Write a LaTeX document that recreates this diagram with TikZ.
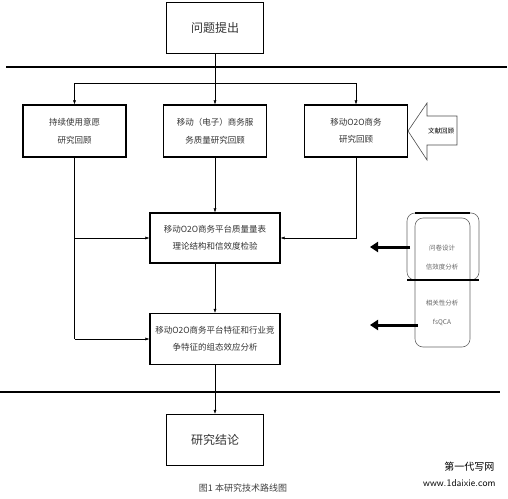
\documentclass[tikz,border=0pt]{standalone}
\usepackage{fontspec}
\newfontfamily\cjk{Noto Sans CJK SC}
\usetikzlibrary{arrows.meta}

\begin{document}
\begin{tikzpicture}[x=1pt,y=-1pt,
  box/.style={draw, line width=1.2pt, rectangle, align=center, text=black!80, font=\cjk\fontsize{8.5}{17.5}\selectfont},
  bigbox/.style={box, minimum width=97pt, minimum height=51pt, font=\cjk\fontsize{12}{14}\selectfont},
  bar/.style={line width=2.5pt},
  fat/.style={line width=3pt, -{Triangle[length=8pt,width=10pt]}},
  small/.style={align=center, text=black!60, font=\cjk\fontsize{6.5}{19}\selectfont},
  >={Latex[length=4pt,width=3pt]}]
\useasboundingbox (0,0) rectangle (508,498);
\node[bigbox] (pose) at (215,28) {问题提出};
\node[box, minimum width=103pt, minimum height=52pt] (rev1) at (74.5,131) {持续使用意愿\\研究回顾};
\node[box, minimum width=103pt, minimum height=52pt] (rev2) at (215,131) {移动（电子）商务服\\务质量研究回顾};
\node[box, minimum width=103pt, minimum height=52pt] (rev3) at (356,131) {移动O2O商务\\研究回顾};
\node[box, minimum width=130pt, minimum height=50pt] (scale) at (215,238) {移动O2O商务平台质量量表\\理论结构和信效度检验};
\node[box, minimum width=130pt, minimum height=51pt] (config) at (215,339) {移动O2O商务平台特征和行业竞\\争特征的组态效应分析};
\node[bigbox] (concl) at (215,440) {研究结论};

\coordinate (split) at (215,83);
\coordinate (lsplit) at (74.5,83);
\coordinate (rsplit) at (356,83);
\coordinate (lbend) at (74.5,339);

% separators
\draw[bar] (6,67) -- (507,67);
\draw[bar] (0,392) -- (500,392);

\draw (pose) -- (split);
\draw (lsplit) -- (rsplit);
\draw[->] (lsplit) -- (rev1);
\draw[->] (split) -- (rev2);
\draw[->] (rsplit) -- (rev3);
\draw[->] (rev2) -- (scale);
\draw[->] (rev3.south) |- (scale.east);
\draw (rev1) -- (lbend);
\draw[->] (rev1.south |- scale.west) -- (scale.west);
\draw[->] (lbend) -- (config);
\draw[->] (scale) -- (config);
\draw[->] (config) -- (concl);

% literature arrow
\draw[black!70, line width=0.6pt] (408,131) -- (427,103) -- (427,116) -- (457,116)
  -- (457,145) -- (427,145) -- (427,160) -- cycle;
\node[font=\cjk\fontsize{6.5}{8}\selectfont] (lit) at (441,131) {文献回顾};

% methods
\draw[black!60, line width=0.6pt, rounded corners=8pt] (479,280) -- (479,213) -- (407,213) -- (407,280) -- cycle;
\draw[black!60, line width=0.6pt, rounded corners=8pt] (415,218) rectangle (470,347);
\draw[line width=2pt] (415,213) -- (470,213);
\draw[line width=1.5pt] (407,280) -- (479,280);
\node[small] (quest) at (442,258) {问卷设计\\信效度分析};
\node[small] (corr) at (442,313) {相关性分析\\fsQCA};
\coordinate (qtail) at (410,247);
\coordinate (qtip) at (370,247);
\coordinate (ctail) at (418,325);
\coordinate (ctip) at (370,325);
\draw[fat] (qtail) -- (qtip);
\draw[fat] (ctail) -- (ctip);

\node[font=\cjk\fontsize{9}{11}\selectfont, text=black!75] (caption) at (243,488) {图1 本研究技术路线图};
\node[anchor=east, font=\cjk\fontsize{10}{12}\selectfont] (mark) at (498,467) {第一代写网};
\node[anchor=east, font=\sffamily\fontsize{10}{12}\selectfont] (site) at (499,483) {www.1daixie.com};
\end{tikzpicture}
\end{document}
